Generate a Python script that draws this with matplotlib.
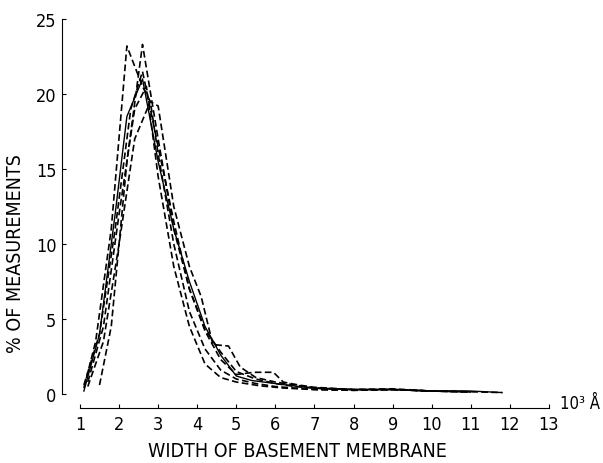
import matplotlib
matplotlib.use("Agg")
import matplotlib.pyplot as plt

plt.rcParams['font.family'] = ['DejaVu Sans']
plt.rcParams['font.stretch'] = 'condensed'

# widths (10^3 A) and % of measurements, one pair per sample
xa = [1.1, 1.4, 1.8, 2.2, 2.6, 2.8, 3.0, 3.4, 3.8, 4.2, 4.6, 5.0, 5.5, 6.0, 6.5, 7.0, 8.0, 9.0, 10.0, 11.0, 11.8]
ya = [0.4, 3.5, 11, 23.2, 20.5, 19.5, 16, 10, 5.5, 3, 1.6, 1.0, 0.7, 0.5, 0.4, 0.3, 0.25, 0.3, 0.2, 0.15, 0.1]

xb = [1.5, 1.8, 2.2, 2.6, 3.0, 3.4, 3.8, 4.2, 4.6, 5.0, 5.5, 6.0, 6.5, 7.0, 8.0, 9.0, 10.0, 11.0]
yb = [0.6, 4.5, 15.5, 23.3, 17, 11, 7, 4.3, 2.8, 1.5, 1.0, 0.7, 0.5, 0.4, 0.3, 0.3, 0.2, 0.15]

xc = [1.1, 1.5, 1.9, 2.2, 2.6, 3.0, 3.4, 3.8, 4.2, 4.6, 5.0, 5.4, 6.0, 6.6, 7.2, 8.0, 9.0, 10.0, 11.0, 11.8]
yc = [0.2, 4, 12, 18.5, 21, 15.5, 11, 7.5, 4.5, 2.6, 1.2, 0.9, 0.7, 0.5, 0.35, 0.3, 0.3, 0.2, 0.2, 0.1]

xd = [1.2, 1.6, 2.0, 2.4, 2.8, 3.0, 3.4, 3.8, 4.1, 4.4, 4.8, 5.1, 5.5, 6.0, 6.5, 7.0, 8.0, 9.0, 10.0, 11.0]
yd = [0.5, 3.5, 10, 17, 19.5, 19.2, 12.5, 8.5, 6.5, 3.3, 3.2, 1.8, 1.1, 0.8, 0.6, 0.4, 0.3, 0.35, 0.2, 0.15]

xe = [1.1, 1.5, 1.9, 2.3, 2.6, 3.0, 3.4, 3.8, 4.2, 4.6, 5.0, 5.45, 5.95, 6.2, 6.6, 7.0, 8.0, 9.0, 10.0, 11.0]
ye = [0.6, 4, 11, 19, 21.5, 16.5, 11.5, 7, 4.2, 2.3, 1.3, 1.45, 1.45, 0.8, 0.6, 0.45, 0.3, 0.3, 0.2, 0.15]

xf = [1.2, 1.6, 2.0, 2.4, 2.7, 3.0, 3.4, 3.8, 4.2, 4.6, 5.0, 5.6, 6.2, 7.0, 8.0, 9.0, 10.0, 11.0]
yf = [0.8, 4.5, 12, 19, 20.5, 14.5, 8.5, 4.5, 2.0, 1.1, 0.8, 0.55, 0.4, 0.3, 0.25, 0.3, 0.2, 0.15]

xticks = list(range(1, 14))
yticks = [0, 5, 10, 15, 20, 25]

fig = plt.figure(figsize=(6.03, 4.64), dpi=100)
ax = fig.add_axes([62/603, 55/464, (549-62)/603, (409-20)/464])

dash = (0, (4, 2))
for x, y in [(xa, ya), (xb, yb), (xd, yd), (xe, ye), (xf, yf)]:
    ax.plot(x, y, color='black', lw=1.2, linestyle=dash)
ax.plot(xc, yc, color='black', lw=1.0)

ax.set_xlim(0.54, 13)
ax.set_ylim(-0.93, 25)
ax.spines['top'].set_visible(False)
ax.spines['right'].set_visible(False)
ax.spines['left'].set_bounds(0, 25)
ax.spines['bottom'].set_bounds(1, 13)
ax.set_xticks(xticks)
ax.set_yticks(yticks)
ax.tick_params(direction='in', length=3, labelsize=13, pad=4)
ax.tick_params(axis='x', pad=5)

ax.set_xlabel('WIDTH OF BASEMENT MEMBRANE', fontsize=14)
ax.xaxis.set_label_coords(0.483, -0.085)
ax.set_ylabel('% OF MEASUREMENTS', fontsize=14)
ax.yaxis.set_label_coords(-0.076, 0.40)
fig.text(0.995, 0.13, '10³ Å', fontsize=12, ha='right', va='center')

fig.savefig('out.png', dpi=100)
